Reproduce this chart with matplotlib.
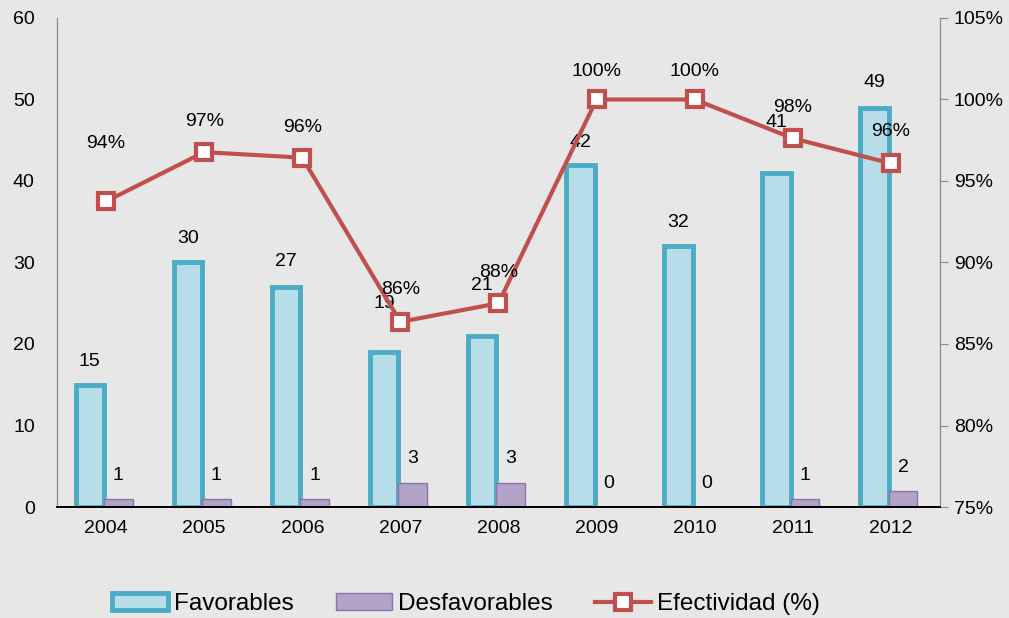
import matplotlib.pyplot as plt
import numpy as np
from matplotlib.ticker import FuncFormatter

plt.rcParams['font.family'] = ['Liberation Sans', 'DejaVu Sans']

years = ["2004", "2005", "2006", "2007", "2008", "2009", "2010", "2011", "2012"]
favorables = [15, 30, 27, 19, 21, 42, 32, 41, 49]
desfavorables = [1, 1, 1, 3, 3, 0, 0, 1, 2]
efectividad = [93.75, 96.77, 96.43, 86.36, 87.5, 100, 100, 97.62, 96.08]

bg = "#e7e7e7"
fs = 14
fig = plt.figure(figsize=(10.09, 6.18), dpi=100, facecolor=bg)
ax = fig.add_axes([0.0565, 0.1796, 0.875, 0.7913])
ax.set_facecolor(bg)
ax2 = ax.twinx()

x = np.arange(len(years))
w = 0.29

b1 = ax.bar(x - w / 2 - 0.02, favorables, w, color="#b7dee8", edgecolor="#4bacc6",
            linewidth=3.5, label="Favorables", zorder=2)
b2 = ax.bar(x + w / 2 - 0.02, desfavorables, w, color="#b3a2c7", edgecolor="#8a74a8",
            linewidth=1, label="Desfavorables", zorder=2)

# etiquetas de las barras (algunas desplazadas hacia arriba)
fav_off = [17, 17, 18, 35, 36, 16, 17, 36, 18]
for i, v in enumerate(favorables):
    ax.annotate(str(v), (x[i] - w / 2 - 0.02, v), xytext=(0, fav_off[i]), textcoords="offset points",
                ha="center", va="center", fontsize=fs, zorder=5)
for i, v in enumerate(desfavorables):
    ax.annotate(str(v), (x[i] + w / 2 - 0.02, v), xytext=(0, 17), textcoords="offset points",
                ha="center", va="center", fontsize=fs, zorder=5)

ax.set_xlim(-0.5, len(years) - 0.5)
ax.set_ylim(0, 60)
ax.set_yticks(range(0, 61, 10))
ax.set_xticks(x)
ax.set_xticklabels(years)
ax.tick_params(axis="y", length=0, labelsize=fs, pad=16)
ax.tick_params(axis="x", length=0, labelsize=fs, pad=9)

ln, = ax2.plot(x, efectividad, color="#c0504d", linewidth=3, marker="s", markersize=12,
               markerfacecolor="white", markeredgecolor="#c0504d", markeredgewidth=3,
               label="Efectividad (%)", zorder=4)
ax2.set_ylim(75, 105)
ax2.set_yticks(range(75, 106, 5))
ax2.yaxis.set_major_formatter(FuncFormatter(lambda v, p: f"{v:.0f}%"))
ax2.tick_params(axis="y", length=6, color="#888888", labelsize=fs, pad=4)

pct_off = [42, 22, 22, 23, 22, 20, 20, 22, 23]
for i, v in enumerate(efectividad):
    ax2.annotate(f"{v:.0f}%", (x[i], v), xytext=(0, pct_off[i]), textcoords="offset points",
                 ha="center", va="center", fontsize=fs, zorder=5)

for a in (ax, ax2):
    a.spines["top"].set_visible(False)
    a.spines["left"].set_color("#888888")
    a.spines["right"].set_color("#888888")
    a.spines["bottom"].set_color("black")
    a.spines["bottom"].set_linewidth(1.3)
ax2.set_zorder(ax.zorder + 1)
ax2.patch.set_visible(False)

fig.legend([b1, b2, ln], ["Favorables", "Desfavorables", "Efectividad (%)"],
           loc="center", bbox_to_anchor=(0.462, 0.022), ncol=3, frameon=False,
           fontsize=17.5, handlelength=2.3, handletextpad=0.25, columnspacing=1.75)

fig.savefig("out.png", dpi=100, facecolor=bg)
